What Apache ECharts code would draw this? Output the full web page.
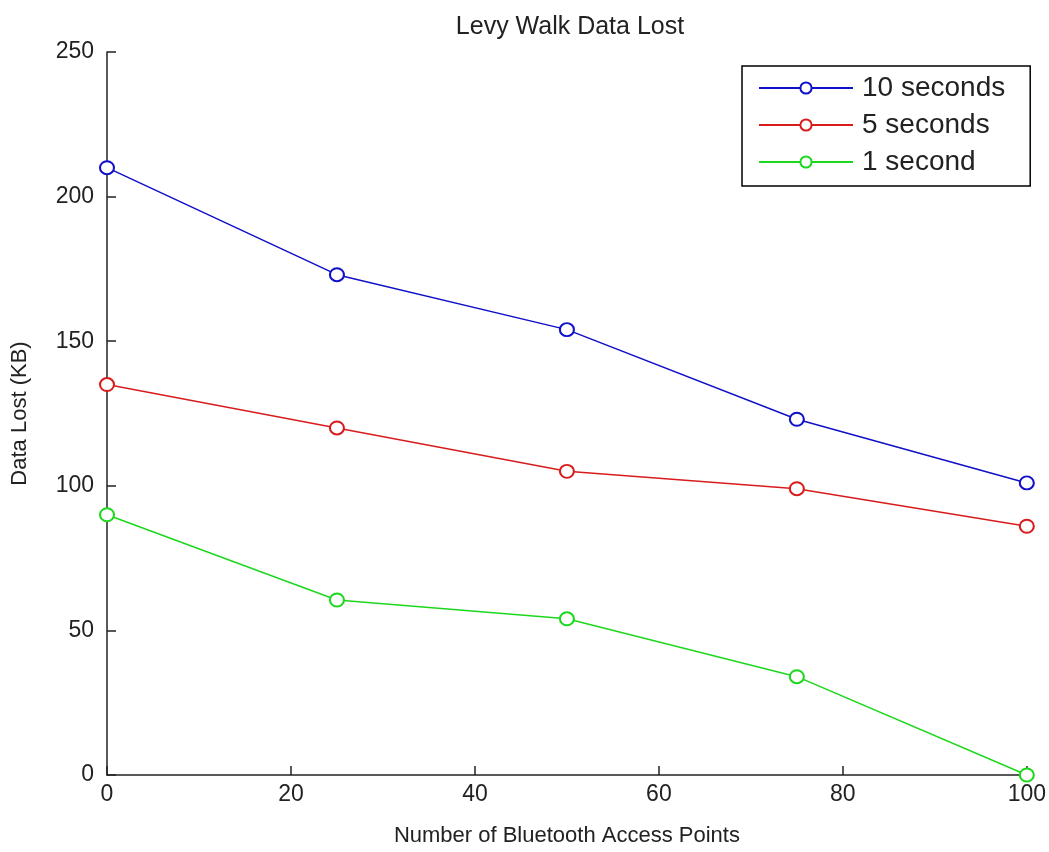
<!DOCTYPE html>
<html>
<head>
<meta charset="utf-8">
<script src="https://cdn.jsdelivr.net/npm/echarts@6/dist/echarts.min.js"></script>
<style>
  html, body { margin: 0; padding: 0; background: #fff; }
  #main { width: 1049px; height: 852px; }
</style>
</head>
<body>
<div id="main"></div>
<script>
// access points on x axis
var accessPoints = [0, 25, 50, 75, 100];
// data lost (KB) per timeout
var tenSeconds = [210, 173, 154, 123, 101];
var fiveSeconds = [135, 120, 105, 99, 86];
var oneSecond = [90, 60.5, 54, 34, 0];

var seriesNames = ["10 seconds", "5 seconds", "1 second"];
var seriesColors = ["#1010c8", "#d81c1c", "#1cd81c"];

var chartDom = document.getElementById("main");
var myChart = echarts.init(chartDom);

const toPairs = vals => {
  var out = [];
  for (var i = 0; i < accessPoints.length; i++) {
    out.push([accessPoints[i], vals[i]]);
  }
  return out;
};

const makeSeries = (name, vals, color) => ({
  name: name,
  type: "line",
  data: toPairs(vals),
  symbol: "emptyCircle",
  symbolSize: [14, 13],
  lineStyle: { color: color, width: 1.5 },
  itemStyle: { color: color, borderColor: color, borderWidth: 1.5 },
  z: 3
});

var txt = "#222";
var font = "Liberation Sans";

var option = {
  animation: false,
  backgroundColor: "#fff",
  title: {
    text: "Levy Walk Data Lost",
    left: 565,
    textAlign: "center",
    top: 10,
    textStyle: { fontFamily: font, fontSize: 25, fontWeight: "normal", color: txt }
  },
  legend: {
    orient: "vertical",
    left: 742,
    top: 66,
    padding: [8, 25, 10, 16],
    itemGap: 9,
    itemWidth: 94,
    itemHeight: 14,
    borderColor: "#000",
    borderWidth: 1.5,
    backgroundColor: "#fff",
    data: seriesNames,
    textStyle: { fontFamily: font, fontSize: 28, color: txt, padding: [0, 0, 0, 4] }
  },
  grid: {
    left: 107,
    right: 22,
    top: 52,
    bottom: 74
  },
  xAxis: {
    type: "value",
    min: 0,
    max: 100,
    interval: 20,
    name: "Number of Bluetooth Access Points",
    nameLocation: "middle",
    nameGap: 50,
    nameTextStyle: { fontFamily: font, fontSize: 22, color: txt },
    axisLine: { lineStyle: { color: "#222", width: 1.5 } },
    axisTick: { inside: true, length: 9, lineStyle: { color: "#222", width: 1.5 } },
    axisLabel: { fontFamily: font, fontSize: 23, color: txt, margin: 8 },
    splitLine: { show: false }
  },
  yAxis: {
    type: "value",
    min: 0,
    max: 250,
    interval: 50,
    name: "Data Lost (KB)",
    nameLocation: "middle",
    nameGap: 76,
    nameTextStyle: { fontFamily: font, fontSize: 22, color: txt },
    axisLine: { show: true, lineStyle: { color: "#222", width: 1.5 } },
    axisTick: { show: true, inside: true, length: 9, lineStyle: { color: "#222", width: 1.5 } },
    axisLabel: { fontFamily: font, fontSize: 23, color: txt, margin: 13 },
    splitLine: { show: false }
  },
  series: [
    makeSeries(seriesNames[0], tenSeconds, seriesColors[0]),
    makeSeries(seriesNames[1], fiveSeconds, seriesColors[1]),
    makeSeries(seriesNames[2], oneSecond, seriesColors[2])
  ]
};

if (option && typeof option === "object") {
  myChart.setOption(option);
}
</script>
</body>
</html>
